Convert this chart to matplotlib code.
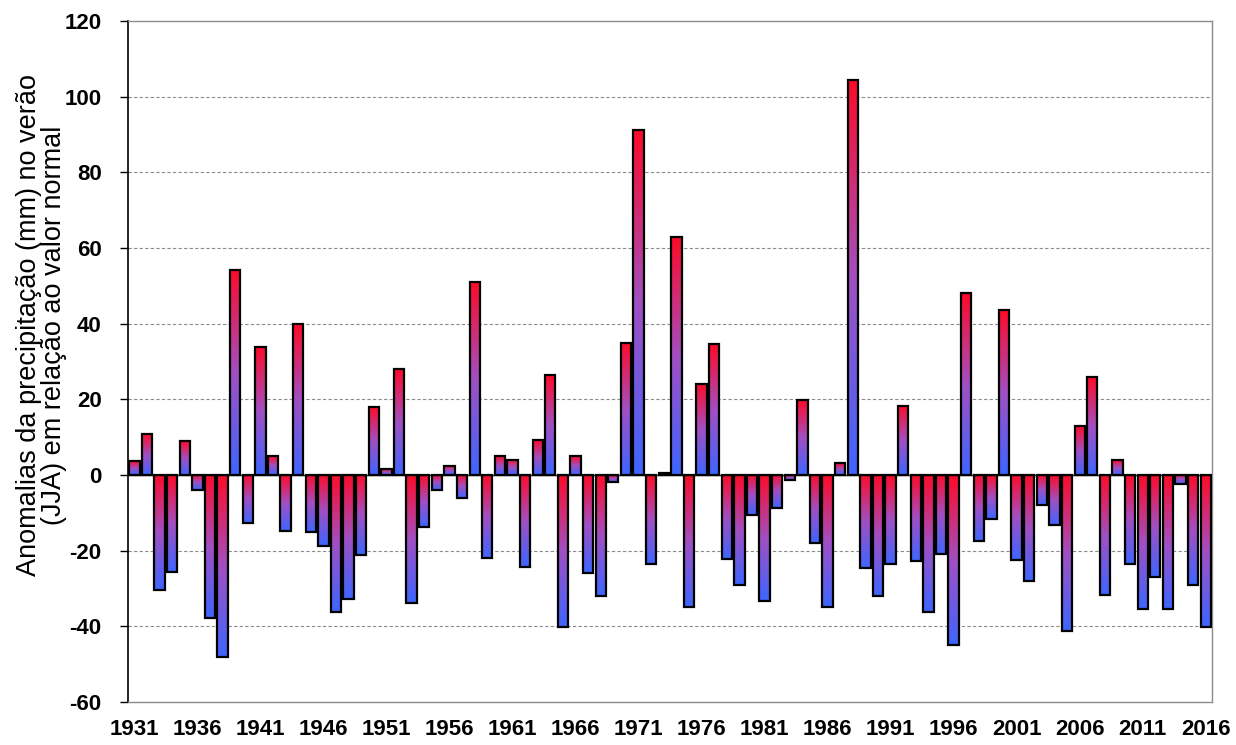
import numpy as np
import matplotlib
matplotlib.use("Agg")
import matplotlib.pyplot as plt
from matplotlib.colors import LinearSegmentedColormap

years = list(range(1931, 2017))
anomalies = [
    3.7, 10.8, -30.4, -25.6, 8.9, -4.0, -37.9, -48.2, 54.3, -12.8,
    33.9, 5.0, -14.7, 39.9, -15.1, -18.8, -36.3, -32.8, -21.2, 18.1,
    1.5, 27.9, -33.7, -13.7, -4.0, 2.4, -6.2, 51.0, -21.9, 5.0,
    4.1, -24.4, 9.2, 26.4, -40.2, 5.0, -25.9, -31.9, -1.8, 34.9,
    91.2, -23.4, 0.4, 62.8, -34.8, 24.1, 34.5, -22.1, -29.0, -10.6,
    -33.4, -8.8, -1.3, 19.8, -18.0, -34.8, 3.1, 104.4, -24.6, -31.9,
    -23.4, 18.3, -22.7, -36.3, -21.0, -44.8, 48.1, -17.5, -11.6, 43.7,
    -22.5, -28.1, -8.0, -13.1, -41.3, 12.9, 25.9, -31.7, 3.9, -23.4,
    -35.3, -26.9, -35.3, -2.4, -29.0, -40.1,
]
tick_years = years[::5]

plt.rcParams["font.family"] = ["Liberation Sans", "DejaVu Sans"]

fig = plt.figure(figsize=(12.36, 7.45), dpi=100)
ax = fig.add_axes([0.1036, 0.0577, 0.877, 0.9141])

x = np.arange(len(years))
bars = ax.bar(x, anomalies, width=0.82, facecolor="none",
              edgecolor="black", linewidth=1.6, zorder=3)

# vertical gradient in each bar: red at the top edge, blue at the bottom edge
cmap = LinearSegmentedColormap.from_list("rb", ["#ff0a28", "#a24fc2", "#3d66ff"])
grad = np.linspace(0, 1, 256).reshape(-1, 1)
for b in bars:
    x0, y0 = b.get_x(), b.get_y()
    w, h = b.get_width(), b.get_height()
    lo, hi = min(y0, y0 + h), max(y0, y0 + h)
    im = ax.imshow(grad, cmap=cmap, aspect="auto", origin="upper",
                   extent=(x0, x0 + w, lo, hi), zorder=2, interpolation="bilinear")
    im.set_clip_path(b)

ax.axhline(0, color="#222222", linewidth=1.0, zorder=2.5)

ax.set_xlim(-0.5, len(years) - 0.5)
ax.set_ylim(-60, 120)
ax.set_yticks(range(-60, 121, 20))
ax.set_yticklabels([str(v) for v in range(-60, 121, 20)],
                   fontsize=16, fontweight="bold")
ax.set_xticks([years.index(y) for y in tick_years])
ax.set_xticklabels([str(y) for y in tick_years], fontsize=16, fontweight="bold")
ax.tick_params(axis="x", length=0, pad=12)
ax.tick_params(axis="y", direction="out", length=6, width=1, pad=13)

for v in range(-40, 101, 20):
    if v != 0:
        ax.axhline(v, color="#8c8c8c", linewidth=0.8, linestyle=(0, (3, 2)), zorder=1)

for side in ["top", "right", "bottom"]:
    ax.spines[side].set_color("#8c8c8c")
    ax.spines[side].set_linewidth(1.0)
ax.spines["left"].set_color("black")
ax.spines["left"].set_linewidth(1.2)

ax.set_ylabel("Anomalias da precipitação (mm) no verão\n(JJA) em relação ao valor normal",
              fontsize=19.5, linespacing=0.95)
ax.yaxis.set_label_coords(-0.056, 0.553)

fig.savefig("out.png", dpi=100)
